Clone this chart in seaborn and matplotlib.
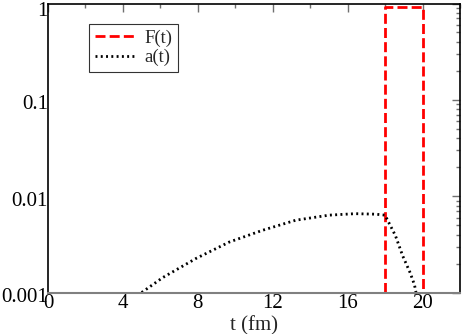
import matplotlib
matplotlib.use("Agg")
import matplotlib.pyplot as plt
import matplotlib.transforms as mtransforms
import seaborn as sns
import pandas as pd
import numpy as np
from matplotlib.ticker import MultipleLocator, LogLocator, FixedFormatter, FixedLocator, NullFormatter

# Data
f_t = [18.0, 18.0, 20.0, 20.0]
f_val = [1e-6, 0.92, 0.92, 1e-6]

a_t = [5.0, 6.13, 7.91, 9.68, 11.45, 13.23, 15.0, 16.4, 17.5, 18.0, 18.1, 18.55, 18.94, 19.34, 19.57, 19.65]
a_val = [0.001, 0.00143, 0.00226, 0.00334, 0.00442, 0.00563, 0.00635, 0.00658, 0.00650, 0.00635, 0.0058, 0.0039, 0.0024, 0.0016, 0.0012, 0.001]

x_ticks = [0, 4, 8, 12, 16, 20]
y_ticks = [0.001, 0.01, 0.1, 1]
y_ticklabels = ["0.001", "0.01", "0.1", "1"]

sns.set_theme(style="white")
plt.rcParams['font.family'] = ['Liberation Serif', 'DejaVu Serif']

fig = plt.figure(figsize=(4.63, 3.34), dpi=100)
ax = fig.add_axes([48/463, 1 - 292.5/334, (460-48)/463, (292.5-3.5)/334])

df_f = pd.DataFrame({"t": f_t, "v": f_val})
df_a = pd.DataFrame({"t": a_t, "v": a_val})

sns.lineplot(data=df_f, x="t", y="v", ax=ax, color="#ff0000", linestyle=(0, (3.6, 1.5)),
             linewidth=2.0, label="F(t)", sort=False, estimator=None)
sns.lineplot(data=df_a, x="t", y="v", ax=ax, color="black", linestyle=(0, (0.7, 1.2)),
             linewidth=2.0, label="a(t)", sort=False, estimator=None)

ax.set_yscale("log")
ax.set_xlim(0, 22)
ax.set_ylim(0.001, 1)

ax.xaxis.set_major_locator(FixedLocator(x_ticks))
ax.xaxis.set_minor_locator(MultipleLocator(2))
ax.yaxis.set_major_locator(FixedLocator(y_ticks))
ax.yaxis.set_major_formatter(FixedFormatter(y_ticklabels))
ax.yaxis.set_minor_locator(LogLocator(base=10, subs=np.arange(2, 10)))
ax.yaxis.set_minor_formatter(NullFormatter())

ax.tick_params(which="both", direction="in", top=True, right=True, color="#707070",
               labelsize=15, labelcolor="black")
ax.tick_params(axis="y", pad=0)
ax.tick_params(axis="x", pad=1)
ax.tick_params(which="major", length=6, width=1)
ax.tick_params(which="minor", length=3, width=1)

for s in ["left", "top", "right"]:
    ax.spines[s].set_color("black")
    ax.spines[s].set_linewidth(1.2)
ax.spines["bottom"].set_color("#808080")
ax.spines["bottom"].set_linewidth(1.5)

ax.set_xlabel("t (fm)", fontsize=15, labelpad=2)
ax.set_ylabel("")

# shift y tick labels slightly down as in reference
fig.canvas.draw()
for lab in ax.get_yticklabels():
    dy = -6 if lab.get_text() == "1" else -2.5
    lab.set_transform(lab.get_transform() + mtransforms.ScaledTranslation(0, dy / 100, fig.dpi_scale_trans))

leg = ax.legend(loc="upper left", bbox_to_anchor=(41/412, 1 - 20.5/289), fontsize=13.5,
                frameon=True, fancybox=False, handlelength=2.1, borderpad=0.3,
                labelspacing=0.12, handletextpad=0.55, borderaxespad=0)
leg.get_frame().set_edgecolor("black")
leg.get_frame().set_linewidth(0.8)

fig.savefig("out.png", dpi=100)
